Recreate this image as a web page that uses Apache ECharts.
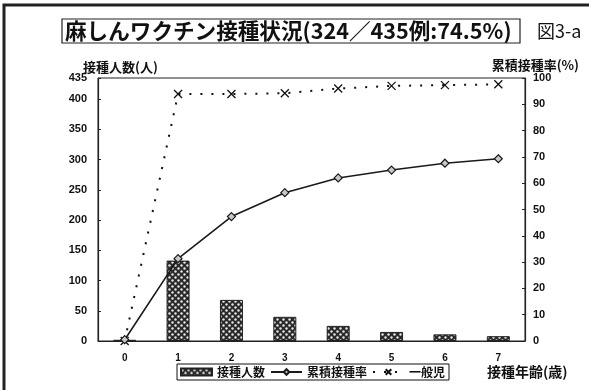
<!DOCTYPE html>
<html>
<head>
<meta charset="utf-8">
<script src="https://cdn.jsdelivr.net/npm/echarts@6/dist/echarts.min.js"></script>
<style>
html,body{margin:0;padding:0;background:#fff;}
#chart{width:589px;height:390px;}
</style>
</head>
<body>
<div id="chart"></div>
<script>
// Vaccination ages (years)
const ages = ['0', '1', '2', '3', '4', '5', '6', '7'];
// Number vaccinated at each age (persons)
const vaccinatedCount = [2, 133, 68, 40, 25, 15, 11, 8];
// Cumulative vaccination rate (%)
const cumulativeRate = [0.5, 31.3, 47.3, 56.4, 62.0, 65.0, 67.6, 69.3];
// General children, cumulative rate (%)
const generalRate = [0, 93.9, 93.9, 94.2, 96.0, 97.0, 97.3, 97.6];
// Left axis labels run 0..400 by 50, with the top at the total of 435
const countMax = 435;
const countStep = 50;

const JP = '"Noto Sans CJK JP", "Noto Sans", sans-serif';
const NUM = '"Liberation Sans", Arial, sans-serif';

// Dotted fill used for the count bars
function dotPattern() {
  const c = document.createElement('canvas');
  c.width = 6; c.height = 6;
  const g = c.getContext('2d');
  g.fillStyle = '#2a2a2a';
  g.fillRect(0, 0, 6, 6);
  g.fillStyle = '#e8e8e8';
  g.beginPath(); g.arc(1.5, 1.5, 1.2, 0, Math.PI * 2); g.fill();
  g.beginPath(); g.arc(4.5, 4.5, 1.2, 0, Math.PI * 2); g.fill();
  return c;
}
const barFill = { image: dotPattern(), repeat: 'repeat' };

const crossSymbol = 'path://M0,0L10,10M10,0L0,10';

const chart = echarts.init(document.getElementById('chart'), null, { renderer: 'canvas' });
chart.setOption({
  animation: false,
  backgroundColor: '#fff',
  grid: {
    left: 98, right: 64, top: 78, bottom: 49,
    show: true, borderColor: '#222', borderWidth: 1
  },
  legend: {
    left: 177, top: 364,
    itemWidth: 31, itemHeight: 7, itemGap: 5,
    padding: [2, 4, 2, 3],
    borderColor: '#111', borderWidth: 1,
    textStyle: { fontFamily: JP, fontSize: 12, fontWeight: 'bold', color: '#111' },
    data: [
      { name: '接種人数', icon: 'rect' },
      { name: '累積接種率' },
      { name: '一般児' }
    ]
  },
  xAxis: {
    type: 'category',
    data: ages,
    boundaryGap: true,
    axisLine: { lineStyle: { color: '#222', width: 1.2 } },
    axisTick: { inside: true, length: 3, lineStyle: { color: '#222' } },
    axisLabel: { margin: 12, fontFamily: NUM, fontWeight: 'bold', fontSize: 10, color: '#111' },
    splitLine: { show: false }
  },
  yAxis: [
    {
      type: 'value', min: 0, max: countMax, interval: countStep,
      axisLine: { show: true, lineStyle: { color: '#222', width: 1.2 } },
      axisTick: { show: true, inside: true, length: 3, lineStyle: { color: '#222' } },
      axisLabel: { margin: 11, fontFamily: NUM, fontWeight: 'bold', fontSize: 11, color: '#111' },
      splitLine: { show: false }
    },
    {
      type: 'value', min: 0, max: 100, interval: 10,
      position: 'right',
      axisLine: { show: true, lineStyle: { color: '#222', width: 1.2 } },
      axisTick: { show: true, inside: true, length: 3, lineStyle: { color: '#222' } },
      axisLabel: { margin: 8, fontFamily: NUM, fontWeight: 'bold', fontSize: 11, color: '#111' },
      splitLine: { show: false }
    }
  ],
  series: [
    {
      name: '接種人数',
      type: 'bar',
      yAxisIndex: 0,
      data: vaccinatedCount,
      barWidth: 23,
      itemStyle: { color: barFill, borderColor: '#222', borderWidth: 1 },
      z: 2
    },
    {
      name: '累積接種率',
      type: 'line',
      yAxisIndex: 1,
      data: cumulativeRate,
      symbol: 'diamond',
      symbolSize: 8,
      showAllSymbol: true,
      lineStyle: { color: '#1a1a1a', width: 1.6 },
      itemStyle: { color: '#c8c8c8', borderColor: '#1a1a1a', borderWidth: 1.2 },
      z: 4
    },
    {
      name: '一般児',
      type: 'line',
      yAxisIndex: 1,
      data: generalRate,
      symbol: crossSymbol,
      symbolSize: 8,
      showAllSymbol: true,
      lineStyle: { color: '#111', width: 2, type: [2, 9] },
      itemStyle: { color: '#111', borderColor: '#111', borderWidth: 1.3 },
      z: 3
    }
  ],
  graphic: [
    // outer frame
    { type: 'rect', shape: { x: 4, y: 5, width: 640, height: 440 },
      style: { fill: 'none', stroke: '#222', lineWidth: 3 }, silent: true },
    // title box
    { type: 'rect', shape: { x: 62, y: 19, width: 458, height: 24 },
      style: { fill: '#fff', stroke: '#222', lineWidth: 1.2 } },
    { type: 'text', x: 65, y: 31,
      style: { text: '麻しんワクチン接種状況(324／435例:74.5%)', fontFamily: JP,
               fontSize: 21.6, fontWeight: 'bold', fill: '#111', verticalAlign: 'middle' } },
    { type: 'text', x: 537, y: 31,
      style: { text: '図3-a', fontFamily: JP, fontSize: 18, fill: '#111', verticalAlign: 'middle' } },
    // axis names
    { type: 'text', x: 83, y: 67,
      style: { text: '接種人数(人)', fontFamily: JP, fontSize: 13, fontWeight: 'bold',
               fill: '#111', verticalAlign: 'middle' } },
    { type: 'text', x: 579, y: 65,
      style: { text: '累積接種率(%)', fontFamily: JP, fontSize: 13, fontWeight: 'bold',
               fill: '#111', verticalAlign: 'middle', align: 'right' } },
    { type: 'text', x: 487, y: 372,
      style: { text: '接種年齢(歳)', fontFamily: JP, fontSize: 14, fontWeight: 'bold',
               fill: '#111', verticalAlign: 'middle' } }
  ]
});
</script>
</body>
</html>
